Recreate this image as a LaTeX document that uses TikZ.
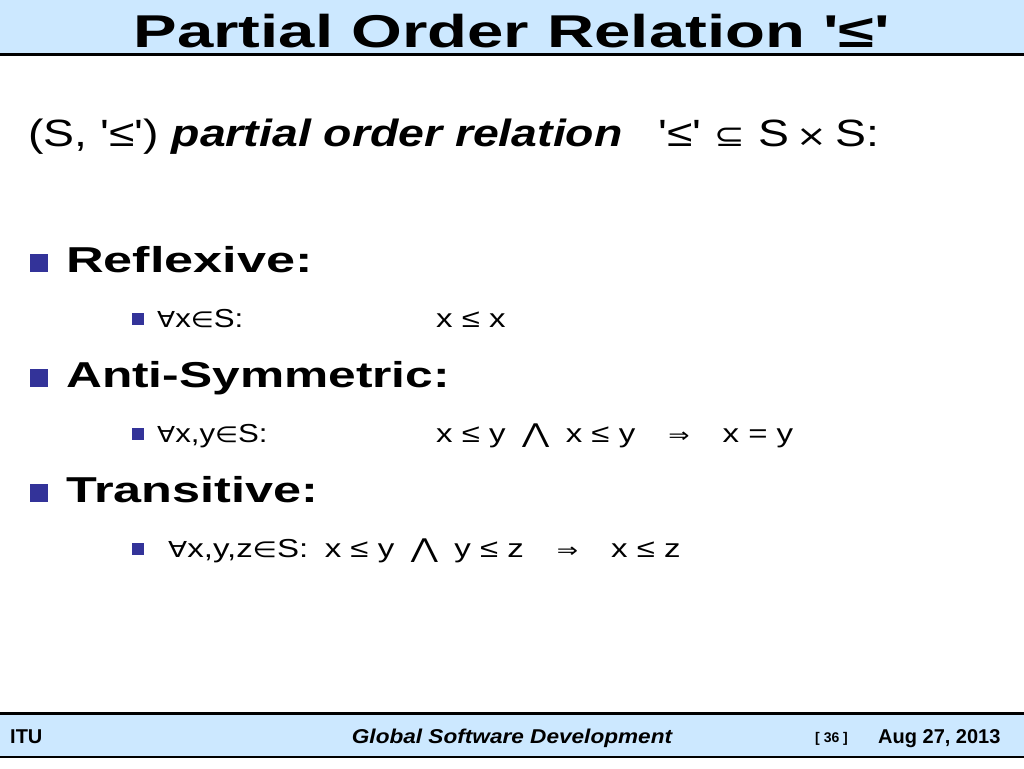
\documentclass[tikz,border=0pt]{standalone}
\usepackage{fontspec}
\setmainfont{Liberation Sans}
\newfontfamily\symf{DejaVu Sans}
\definecolor{barblue}{HTML}{CCE8FF}
\definecolor{bulletblue}{HTML}{333399}
\newcommand{\q}{\textquotesingle}
\newcommand{\sx}[2]{\scalebox{#1}[1]{#2}}
\begin{document}
\begin{tikzpicture}[x=1pt,y=-1pt,
  txt/.style={anchor=base west,inner sep=0pt},
  bul/.style={fill=bulletblue},
]
\useasboundingbox (0,0) rectangle (1024,768);
\fill[white] (0,0) rectangle (1024,768);
% title bar
\fill[barblue] (0,0) rectangle (1024,54);
\draw[line width=3pt] (0,55) -- (1024,55);
\node[anchor=base,inner sep=0pt,font=\fontsize{46}{50}\selectfont\bfseries] (title) at (512,48) {\sx{1.42}{Partial Order Relation \q≤\q}};
% line 1
\node[txt,font=\fontsize{38}{40}\selectfont] (l1) at (28,146) {\sx{1.22}{(S, \q≤\q) \textbf{\textit{partial order relation}}\enspace\ \q≤\q\ {\symf\fontsize{30}{30}\selectfont ⊆} S\,{\symf\fontsize{30}{30}\selectfont ×}\,S:}};
% bullets
\fill[bul] (30,254) rectangle (48,272);
\node[txt,font=\fontsize{36}{40}\selectfont\bfseries] (refl) at (66,272) {\sx{1.45}{Reflexive:}};
\fill[bul] (132,313) rectangle (144,325);
\node[txt,font=\fontsize{26}{30}\selectfont] (r1) at (157,327) {\sx{1.2}{{\symf\fontsize{22}{24}\selectfont ∀}x{\symf\fontsize{22}{24}\selectfont ∈}S:}};
\node[txt,font=\fontsize{26}{30}\selectfont] (r2) at (436,327) {\sx{1.27}{x ≤ x}};
\fill[bul] (30,369) rectangle (48,387);
\node[txt,font=\fontsize{36}{40}\selectfont\bfseries] (anti) at (66,387) {\sx{1.38}{Anti-Symmetric:}};
\fill[bul] (132,428) rectangle (144,440);
\node[txt,font=\fontsize{26}{30}\selectfont] (a1) at (157,442) {\sx{1.2}{{\symf\fontsize{22}{24}\selectfont ∀}x,y{\symf\fontsize{22}{24}\selectfont ∈}S:}};
\node[txt,font=\fontsize{26}{30}\selectfont] (a2) at (436,442) {\sx{1.27}{x ≤ y\enspace{\symf ⋀}\enspace x ≤ y\quad{\symf\fontsize{20}{24}\selectfont ⇒}\quad x = y}};
\fill[bul] (30,484) rectangle (48,502);
\node[txt,font=\fontsize{36}{40}\selectfont\bfseries] (trans) at (66,502) {\sx{1.4}{Transitive:}};
\fill[bul] (132,543) rectangle (144,555);
\node[txt,font=\fontsize{26}{30}\selectfont] (t1) at (168,557) {\sx{1.27}{{\symf\fontsize{22}{24}\selectfont ∀}x,y,z{\symf\fontsize{22}{24}\selectfont ∈}S:\enspace x ≤ y\enspace{\symf ⋀}\enspace y ≤ z\quad{\symf\fontsize{20}{24}\selectfont ⇒}\quad x ≤ z}};
% footer
\draw[line width=3pt] (0,713) -- (1024,713);
\fill[barblue] (0,715) rectangle (1024,756);
\draw[line width=1.5pt] (0,757) -- (1024,757);
\node[txt,font=\fontsize{20}{24}\selectfont\bfseries] (itu) at (10,743) {ITU};
\node[anchor=base,inner sep=0pt,font=\fontsize{20}{24}\selectfont\bfseries\itshape] (gsd) at (512,743) {\sx{1.13}{Global Software Development}};
\node[txt,font=\fontsize{14}{16}\selectfont\bfseries] (pg) at (815,742) {[ 36 ]};
\node[txt,font=\fontsize{20}{24}\selectfont\bfseries] (date) at (878,743) {Aug 27, 2013};
\end{tikzpicture}
\end{document}
